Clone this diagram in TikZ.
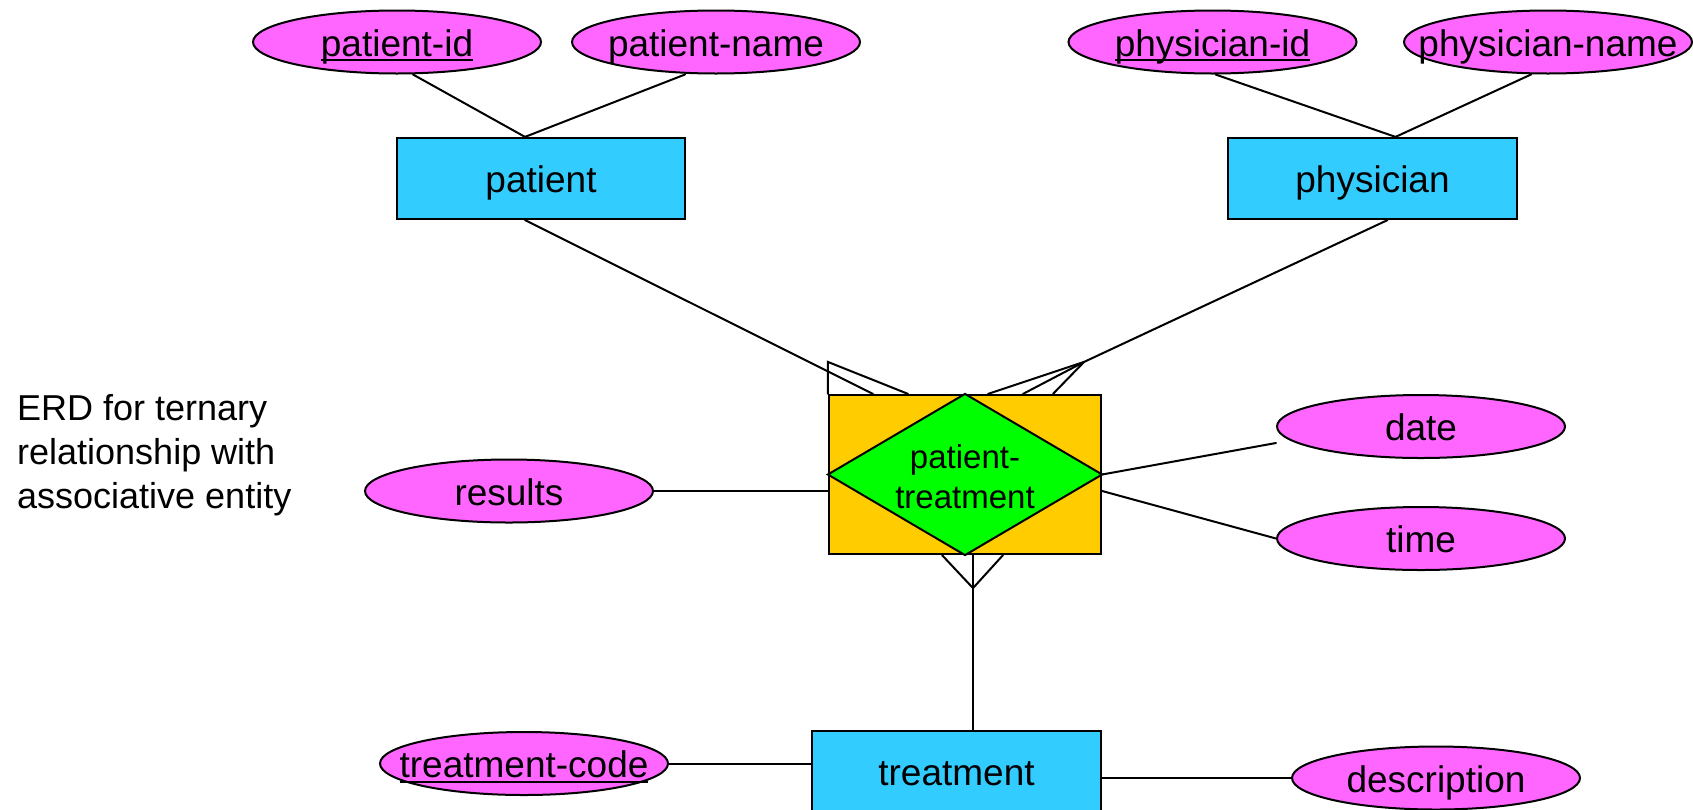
\documentclass[tikz,border=0pt]{standalone}
\usepackage{fontspec}
\setmainfont{Liberation Sans}
\usetikzlibrary{shapes.geometric}
\definecolor{entfill}{HTML}{33CCFF}
\definecolor{attfill}{HTML}{FF66FF}
\definecolor{assocfill}{HTML}{FFCC00}
\definecolor{relfill}{HTML}{00FF00}
\newcommand\keyul[1]{\setbox0=\hbox{#1}\rlap{\rule[-5pt]{\wd0}{2pt}}\box0}
\newcommand\zw[1]{\makebox[0pt]{#1}}
\tikzset{
  attr/.style={ellipse, draw, line width=2pt, fill=attfill, inner sep=0pt,
    minimum width=288pt, minimum height=63pt, text height=31pt, text depth=3pt,
    font=\fontsize{37}{44}\selectfont},
  entity/.style={rectangle, draw, line width=2.2pt, fill=entfill, inner sep=0pt,
    minimum width=288pt, minimum height=81pt, text height=31pt, text depth=3pt,
    font=\fontsize{37}{44}\selectfont},
  assoc/.style={rectangle, draw, line width=2.2pt, fill=assocfill, inner sep=0pt,
    minimum width=272pt, minimum height=159pt},
  conn/.style={line width=2pt, line cap=round},
}
\begin{document}
\begin{tikzpicture}[x=1pt, y=-1pt]
\useasboundingbox (0,0) rectangle (1693,809);
\fill[white] (0,0) rectangle (1693,809);

% attributes
\node[attr] (pid)    at (397,42)   {\zw{\keyul{patient-id}}};
\node[attr] (pname)  at (716,42)   {\zw{patient-name}};
\node[attr] (phid)   at (1212.5,42) {\zw{\keyul{physician-id}}};
\node[attr] (phname) at (1548,42)  {\zw{physician-name}};
\node[attr] (results) at (509,491) {\zw{results}};
\node[attr] (date)   at (1421,426.5) {\zw{date}};
\node[attr] (time)   at (1421,538.5) {\zw{time}};
\node[attr] (tcode)  at (524,763.5) {\zw{\keyul{treatment-code}}};
\node[attr] (desc)   at (1436,778)  {\zw{description}};

% entities
\node[entity] (patient)   at (541,178.5)    {patient};
\node[entity, minimum width=289pt] (physician) at (1372.5,178.5) {physician};
\node[entity, minimum width=289pt] (treatment) at (956.5,771.5)  {treatment};

% associative entity
\node[assoc] (rel) at (965,474.5) {};
\draw[line width=2pt, fill=relfill, line join=miter]
  (rel.north) -- (rel.east) -- (rel.south) -- (rel.west) -- cycle;
\node[font=\fontsize{33}{40}\selectfont, align=center, inner sep=0pt] (reltext)
  at (965,477) {patient-\\treatment};

% caption
\node[anchor=north west, align=left, inner sep=0pt,
  font=\fontsize{36}{44}\selectfont] (caption) at (17,394)
  {ERD for ternary\\relationship with\\associative entity};

% attribute connectors
\draw[conn] ([xshift=16pt]pid.south) -- ([xshift=-16pt]patient.north);
\draw[conn] ([xshift=-31pt]pname.south) -- ([xshift=-16pt]patient.north);
\draw[conn] ([xshift=3pt]phid.south) -- ([xshift=23pt]physician.north);
\draw[conn] ([xshift=-17pt]phname.south) -- ([xshift=23pt]physician.north);
\draw[conn] (results.east) -- ([yshift=-16.5pt]rel.west);
\draw[conn] (rel.east) -- ([yshift=-16.5pt]date.west);
\draw[conn] ([yshift=-16.5pt]rel.east) -- (time.west);
\draw[conn] (tcode.east) -- (tcode.east -| treatment.west);
\draw[conn] (desc.west -| treatment.east) -- (desc.west);

% patient -- rel with crow's foot
\draw[conn] ([xshift=-16pt]patient.south) -- ([xshift=-92pt]rel.north);
\coordinate (lapex) at ([yshift=32pt]rel.north west);
\draw[conn] (rel.north west) -- (lapex) -- ([xshift=-57pt]rel.north);

% physician -- rel with crow's foot
\coordinate (rapex) at ([xshift=-18pt,yshift=32pt]rel.north east);
\draw[conn] ([xshift=15pt]physician.south) -- (rapex);
\draw[conn] (rapex) -- ([xshift=23pt]rel.north);
\draw[conn] (rapex) -- ([xshift=58pt]rel.north);
\draw[conn] (rapex) -- ([xshift=88pt]rel.north);

% treatment -- rel with crow's foot
\coordinate (bapex) at ([xshift=8pt,yshift=-33pt]rel.south);
\draw[conn] ([xshift=-23pt]rel.south) -- (bapex) -- ([xshift=38pt]rel.south);
\draw[conn] ([xshift=8pt]rel.south) -- ([xshift=16.5pt]treatment.north);
\end{tikzpicture}
\end{document}
